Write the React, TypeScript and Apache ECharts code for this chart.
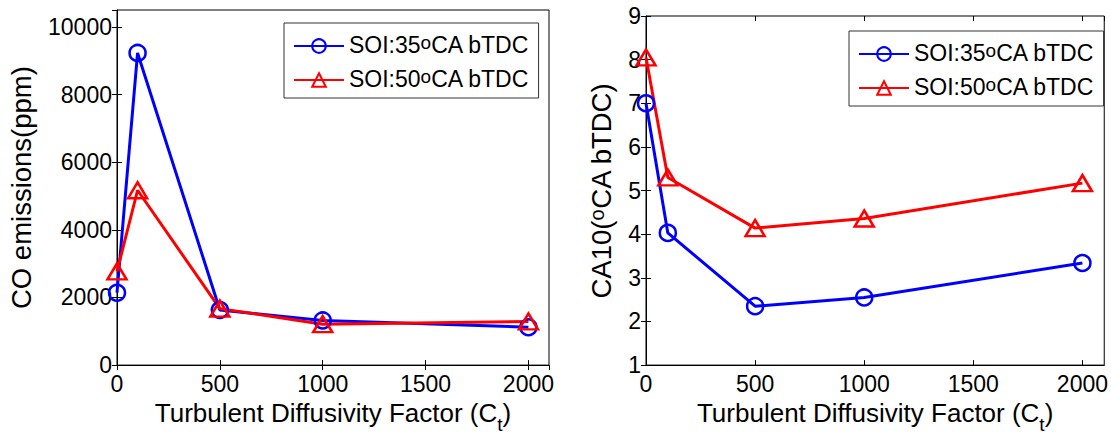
import React, { useEffect, useRef } from "react";
import * as echarts from "echarts";

// ---- data ----
const ctValues = [0, 100, 500, 1000, 2000];
const coSOI35 = [2140, 9230, 1630, 1320, 1120];
const coSOI50 = [2770, 5170, 1670, 1210, 1290];
const ca10SOI35 = [7.0, 4.03, 2.35, 2.55, 3.34];
const ca10SOI50 = [8.05, 5.3, 4.14, 4.36, 5.17];
const seriesNames = ["SOI:35ºCA bTDC", "SOI:50ºCA bTDC"];
const xTitle = "Turbulent Diffusivity Factor (C";
const xTitleSub = "t";
const leftYTitle = "CO emissions(ppm)";
const rightYTitleParts = ["CA10(", "o", "CA bTDC)"];

const FONT = "'Liberation Sans', Arial, sans-serif";
const BLUE = "#0000ff";
const RED = "#ff0000";
const plain = (v: number) => String(v);

function xAxisPair(gridIndex: number) {
  const common = {
    type: "value" as const,
    gridIndex,
    min: 0,
    max: 2100,
    interval: 500,
    splitLine: { show: false },
  };
  return [
    {
      ...common,
      position: "bottom",
      axisLine: { show: true, onZero: false, lineStyle: { color: "#000", width: 1 } },
      axisTick: { show: true, inside: true, length: 5, lineStyle: { color: "#000" } },
      axisLabel: {
        show: true,
        color: "#000",
        fontSize: 23,
        fontFamily: FONT,
        margin: 7,
        showMaxLabel: false,
        formatter: plain,
      },
      name: `{a|${xTitle}}{s|${xTitleSub}}{a|)}`,
      nameLocation: "middle",
      nameGap: 30,
      nameTextStyle: {
        color: "#000",
        fontFamily: FONT,
        rich: {
          a: { fontSize: 26, fontFamily: FONT, color: "#000", lineHeight: 29, verticalAlign: "top" },
          s: { fontSize: 19, fontFamily: FONT, color: "#000", lineHeight: 19, padding: [15, 0, 0, 0], verticalAlign: "top" },
        },
      },
    },
    {
      ...common,
      position: "top",
      axisLine: { show: false },
      axisTick: { show: true, inside: true, length: 5, lineStyle: { color: "#000" } },
      axisLabel: { show: false },
    },
  ];
}

function yAxisPair(
  gridIndex: number,
  min: number,
  max: number,
  interval: number,
  name: string,
  nameGap: number,
  rich: any
) {
  const common = {
    type: "value" as const,
    gridIndex,
    min,
    max,
    interval,
    splitLine: { show: false },
  };
  return [
    {
      ...common,
      position: "left",
      axisLine: { show: true, onZero: false, lineStyle: { color: "#000", width: 1 } },
      axisTick: { show: true, inside: true, length: 5, lineStyle: { color: "#000" } },
      axisLabel: {
        show: true,
        color: "#000",
        fontSize: 23,
        fontFamily: FONT,
        margin: 5,
        showMaxLabel: max % interval === 0,
        formatter: plain,
      },
      name,
      nameLocation: "middle",
      nameGap,
      nameTextStyle: { color: "#000", fontFamily: FONT, fontSize: 27.5, rich },
    },
    {
      ...common,
      position: "right",
      axisLine: { show: false },
      axisTick: { show: true, inside: true, length: 5, lineStyle: { color: "#000" } },
      axisLabel: { show: false },
    },
  ];
}

function lineSeries(
  name: string,
  xi: number,
  yi: number,
  values: number[],
  color: string,
  triangle: boolean
) {
  return {
    type: "line",
    name,
    xAxisIndex: xi,
    yAxisIndex: yi,
    data: ctValues.map((x, i) => [x, values[i]]),
    symbol: triangle ? "triangle" : "circle",
    symbolSize: triangle ? [19, 16] : 16,
    showAllSymbol: true,
    lineStyle: { color, width: 3 },
    itemStyle: { color: "rgba(255,255,255,0)", borderColor: color, borderWidth: 2.5 },
    emphasis: { disabled: true },
  };
}

function legendAt(left: number, top: number) {
  return {
    show: true,
    orient: "vertical",
    left,
    top,
    data: seriesNames,
    itemWidth: 50,
    itemHeight: 17,
    itemGap: 11,
    padding: [10, 9, 8, 9],
    borderColor: "#333",
    borderWidth: 1,
    backgroundColor: "#fff",
    selectedMode: false,
    formatter: (n: string) => {
      const [a, b] = n.split("º");
      return `{t|${a}}{s|o}{t|${b}}`;
    },
    textStyle: {
      color: "#000",
      fontFamily: FONT,
      fontSize: 23,
      rich: {
        t: { fontSize: 23, fontFamily: FONT, color: "#000", lineHeight: 26, verticalAlign: "top" },
        s: { fontSize: 19, fontFamily: FONT, color: "#000", lineHeight: 13, verticalAlign: "top" },
      },
    },
  };
}

export default function App() {
  const ref = useRef<HTMLDivElement>(null);
  useEffect(() => {
    if (!ref.current) return;
    const chart = echarts.init(ref.current, undefined, { renderer: "svg" });
    const rightRich = {
      t: { fontSize: 27.5, fontFamily: FONT, color: "#000", lineHeight: 30, verticalAlign: "top" },
      s: { fontSize: 20, fontFamily: FONT, color: "#000", lineHeight: 15, verticalAlign: "top" },
    };
    const option: any = {
      animation: false,
      backgroundColor: "#fff",
      grid: [
        { left: 117, top: 10, width: 432, height: 360, show: true, borderColor: "#000", borderWidth: 1, backgroundColor: "transparent" },
        { left: 646, top: 16, width: 459, height: 354, show: true, borderColor: "#000", borderWidth: 1, backgroundColor: "transparent" },
      ],
      xAxis: [...xAxisPair(0), ...xAxisPair(1)],
      yAxis: [
        ...yAxisPair(0, 0, 10500, 2000, leftYTitle, 82, undefined),
        ...yAxisPair(
          1,
          1,
          9,
          1,
          `{t|${rightYTitleParts[0]}}{s|${rightYTitleParts[1]}}{t|${rightYTitleParts[2]}}`,
          29,
          rightRich
        ),
      ],
      legend: [legendAt(284, 23), legendAt(849, 31)],
      series: [
        lineSeries(seriesNames[0], 0, 0, coSOI35, BLUE, false),
        lineSeries(seriesNames[1], 0, 0, coSOI50, RED, true),
        lineSeries(seriesNames[0], 2, 2, ca10SOI35, BLUE, false),
        lineSeries(seriesNames[1], 2, 2, ca10SOI50, RED, true),
      ],
    };
    chart.setOption(option);
    return () => chart.dispose();
  }, []);
  return (
    <div
      ref={ref}
      style={{ position: "fixed", left: 0, top: 0, width: 1111, height: 439, background: "#fff" }}
    />
  );
}
